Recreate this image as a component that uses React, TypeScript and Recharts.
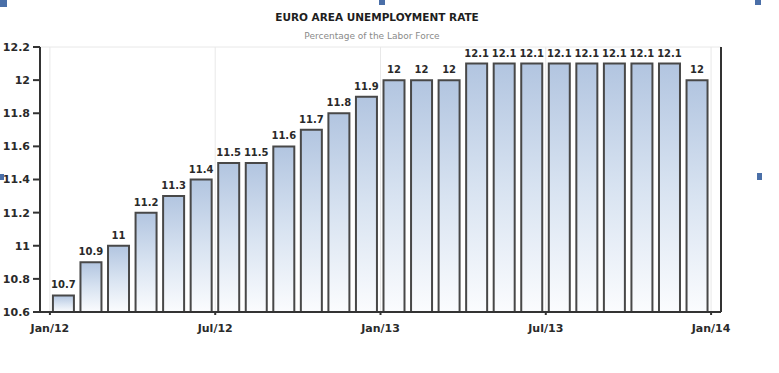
import React from "react";
import {
  Bar,
  BarChart,
  CartesianGrid,
  LabelList,
  XAxis,
  YAxis,
} from "recharts";

const months = [
  "Jan/12", "Feb/12", "Mar/12", "Apr/12", "May/12", "Jun/12",
  "Jul/12", "Aug/12", "Sep/12", "Oct/12", "Nov/12", "Dec/12",
  "Jan/13", "Feb/13", "Mar/13", "Apr/13", "May/13", "Jun/13",
  "Jul/13", "Aug/13", "Sep/13", "Oct/13", "Nov/13", "Dec/13",
];

const rates = [
  10.7, 10.9, 11, 11.2, 11.3, 11.4, 11.5, 11.5, 11.6, 11.7, 11.8, 11.9,
  12, 12, 12, 12.1, 12.1, 12.1, 12.1, 12.1, 12.1, 12.1, 12.1, 12,
];

const xTickLabels = ["Jan/12", "Jul/12", "Jan/13", "Jul/13", "Jan/14"];
const xTicks = [0, 6, 12, 18, 24];
const yTicks = [10.6, 10.8, 11, 11.2, 11.4, 11.6, 11.8, 12, 12.2];

// bars sit in the middle of their month
const data = months.map((m, i) => ({ month: m, pos: i + 0.5, rate: rates[i] }));

const font = "DejaVu Sans, Verdana, sans-serif";

const tickStyle = {
  fontSize: 11,
  fontWeight: "bold" as const,
  fontFamily: font,
  fill: "#2a2a2a",
};

const handle = (left: number, top: number, w: number, h: number) => (
  <div
    style={{
      position: "absolute",
      left,
      top,
      width: w,
      height: h,
      background: "#4a6fa8",
    }}
  />
);

export default function App() {
  return (
    <div
      style={{
        position: "absolute",
        left: 0,
        top: 0,
        width: 779,
        height: 373,
        background: "#fff",
        overflow: "hidden",
      }}
    >
      <div
        style={{
          position: "absolute",
          left: 0,
          width: 754,
          top: 11,
          textAlign: "center",
          fontFamily: font,
          fontWeight: "bold",
          fontSize: 10.5,
          color: "#1e1e1e",
        }}
      >
        EURO AREA UNEMPLOYMENT RATE
      </div>
      <div
        style={{
          position: "absolute",
          left: 0,
          width: 744,
          top: 31,
          textAlign: "center",
          fontFamily: font,
          fontSize: 9,
          color: "#8a8a8a",
        }}
      >
        Percentage of the Labor Force
      </div>

      <BarChart
        width={779}
        height={373}
        data={data}
        margin={{ top: 47, right: 0, bottom: 31, left: 0 }}
        barSize={21}
        style={{ position: "absolute", left: 0, top: 0 }}
      >
        <defs>
          <linearGradient id="barFill" x1="0" y1="0" x2="0" y2="1">
            <stop offset="0%" stopColor="#b2c5e0" />
            <stop offset="50%" stopColor="#d8e3f1" />
            <stop offset="100%" stopColor="#fbfcfe" />
          </linearGradient>
        </defs>
        <CartesianGrid stroke="#e8e8e8" />
        <XAxis
          type="number"
          dataKey="pos"
          domain={[-0.36, 24.36]}
          ticks={xTicks}
          tickFormatter={(v: number) => xTickLabels[v / 6]}
          height={30}
          tick={tickStyle}
          tickSize={3}
          tickMargin={9}
          axisLine={{ stroke: "#333", strokeWidth: 2 }}
          tickLine={{ stroke: "#333", strokeWidth: 2 }}
          interval={0}
        />
        <YAxis
          yAxisId="left"
          orientation="left"
          width={40}
          domain={[10.6, 12.2]}
          ticks={yTicks}
          tick={tickStyle}
          tickSize={7}
          tickMargin={3}
          axisLine={{ stroke: "#333", strokeWidth: 2 }}
          tickLine={{ stroke: "#333", strokeWidth: 2 }}
          interval={0}
        />
        <YAxis
          yAxisId="right"
          orientation="right"
          width={58}
          domain={[10.6, 12.2]}
          ticks={yTicks}
          tick={{ ...tickStyle, textAnchor: "start" }}
          tickSize={7}
          tickMargin={5}
          axisLine={{ stroke: "#333", strokeWidth: 2 }}
          tickLine={{ stroke: "#333", strokeWidth: 2 }}
          interval={0}
        />
        <Bar
          yAxisId="left"
          dataKey="rate"
          fill="url(#barFill)"
          stroke="#484848"
          strokeWidth={2}
          isAnimationActive={false}
        >
          <LabelList
            dataKey="rate"
            position="top"
            offset={7}
            style={{
              fontSize: 10,
              fontWeight: "bold",
              fontFamily: font,
              fill: "#2a2a2a",
            }}
          />
        </Bar>
      </BarChart>

      {handle(0, 0, 7, 7)}
      {handle(379, 0, 6, 5)}
      {handle(755, 0, 6, 5)}
      {handle(0, 174, 4, 6)}
      {handle(757, 173, 5, 7)}
    </div>
  );
}
